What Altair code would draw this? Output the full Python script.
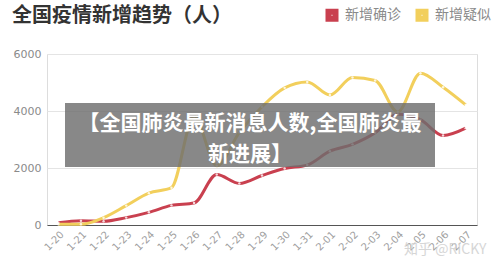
import altair as alt
import pandas as pd

dates = ["1-20", "1-21", "1-22", "1-23", "1-24", "1-25", "1-26", "1-27", "1-28", "1-29",
         "1-30", "1-31", "2-01", "2-02", "2-03", "2-04", "2-05", "2-06", "2-07"]
confirmed = [77, 149, 131, 259, 444, 688, 769, 1771, 1459, 1737,
             1982, 2102, 2590, 2829, 3235, 3887, 3694, 3143, 3399]
suspected = [27, 26, 257, 680, 1118, 1309, 3806, 2077, 3248, 4148,
             4812, 5019, 4562, 5173, 5072, 3971, 5328, 4833, 4214]
series_names = ["新增确诊", "新增疑似"]
series_colors = ["#c9404f", "#f2cf5c"]
y_ticks = [0, 1000, 2000, 3000, 4000, 5000, 6000]
title_text = "全国疫情新增趋势（人）"
overlay_lines = ["【全国肺炎最新消息人数,全国肺炎最", "新进展】"]
watermark_text = "知乎 @RICKY"

rows = []
for d, c, s in zip(dates, confirmed, suspected):
    rows.append({"date": d, "series": series_names[0], "value": c})
    rows.append({"date": d, "series": series_names[1], "value": s})
df = pd.DataFrame(rows)

FONT = "Noto Sans CJK SC"

x_enc = alt.X("date:O", sort=dates, scale=alt.Scale(padding=0.5),
              axis=alt.Axis(title=None, labelAngle=-45, labelColor="#a0a0a0", labelFontSize=10,
                            labelFont="DejaVu Sans", ticks=False, domainColor="#555555",
                            domainWidth=1.2, labelPadding=4, grid=False))
y_enc = alt.Y("value:Q", scale=alt.Scale(domain=[0, 6000], nice=False),
              axis=alt.Axis(title=None, values=y_ticks, format="d", labelColor="#8a8a8a",
                            labelFontSize=11, labelFont="DejaVu Sans", ticks=False, domain=False,
                            gridColor="#e4e4e4", labelPadding=6))
color_enc = alt.Color("series:N", sort=series_names,
                      scale=alt.Scale(domain=series_names, range=series_colors),
                      legend=alt.Legend(title=None, orient="none", direction="horizontal",
                                        legendX=278, legendY=-46, symbolType="square",
                                        symbolSize=49, symbolStrokeWidth=6, labelFontSize=14,
                                        labelColor="#8a8a8a", labelFont=FONT, columnPadding=5,
                                        symbolOpacity=1, labelOffset=6))

base = alt.Chart(df)
lines = base.mark_line(interpolate="monotone", strokeWidth=3).encode(
    x=x_enc, y=y_enc, color=color_enc, detail="series:N")
pts = base.mark_point(filled=True, size=6, color="white", opacity=0.8).encode(
    x=alt.X("date:O", sort=dates), y="value:Q", detail="series:N")

box_df = pd.DataFrame({"k": [0]})
title_mark = alt.Chart(box_df).mark_text(
    text=title_text, font=FONT, fontSize=20, fontWeight="bold", color="#333333",
    align="left", baseline="middle").encode(x=alt.value(-35), y=alt.value(-38))
box = alt.Chart(box_df).mark_rect(color="#6e6e6e", opacity=0.82).encode(
    x=alt.value(18), x2=alt.value(388), y=alt.value(49), y2=alt.value(113))
overlay_text = alt.Chart(box_df).mark_text(
    text=overlay_lines, font=FONT, fontSize=21,
    fontWeight="bold", color="white", align="center", baseline="middle", lineHeight=31).encode(
    x=alt.value(203), y=alt.value(70))
watermark = alt.Chart(box_df).mark_text(
    text=watermark_text, font=FONT, fontSize=14, color="#d0d0d0", align="left",
    baseline="middle", opacity=0.85).encode(x=alt.value(357), y=alt.value(25 + 171))

chart = alt.layer(lines, pts, box, overlay_text, watermark, title_mark).properties(
    width=430, height=171,
    autosize=alt.AutoSizeParams(type="none"),
    padding={"left": 47, "top": 54, "right": 23, "bottom": 46},
).configure_view(stroke=None).configure(background="white")

chart.save("out.html", embed_options={"renderer": "svg", "actions": False})
